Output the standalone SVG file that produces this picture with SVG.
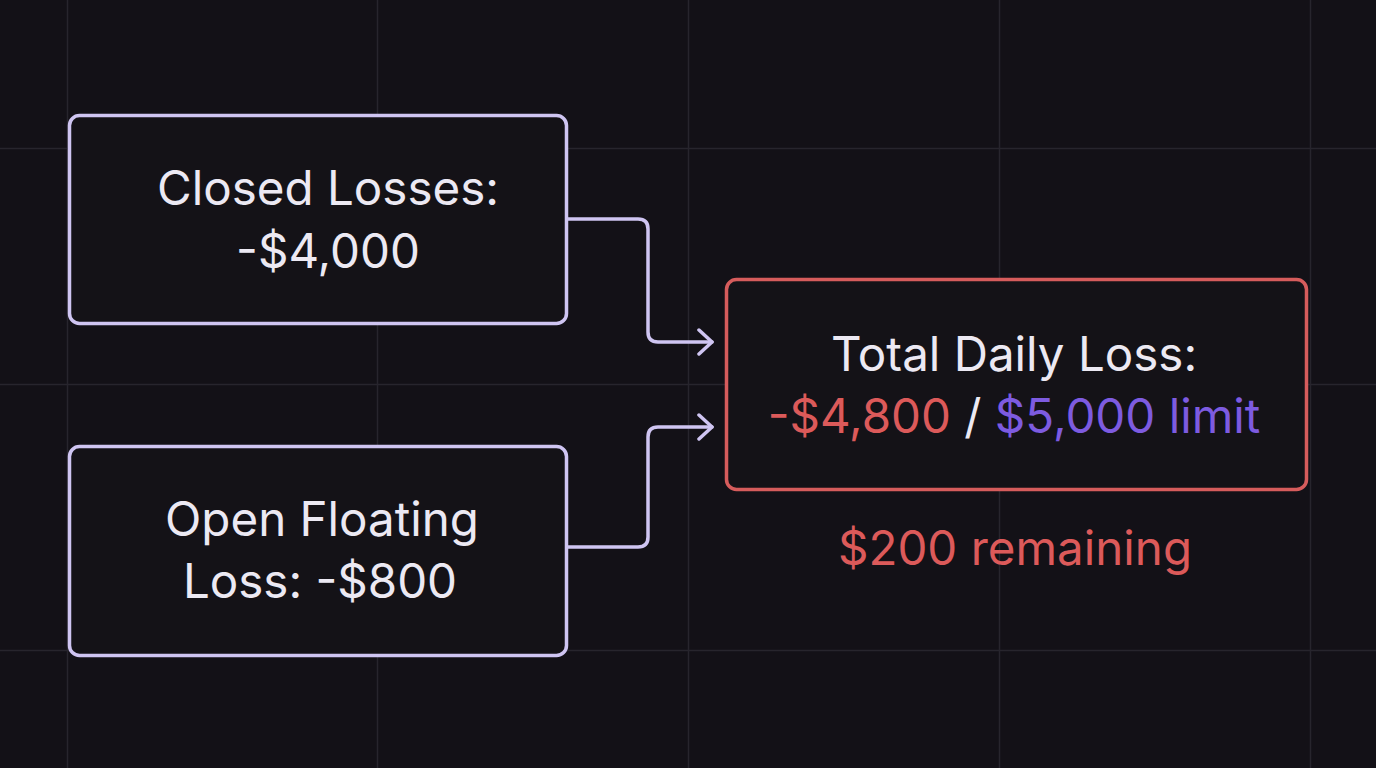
<svg xmlns="http://www.w3.org/2000/svg" width="1376" height="768" viewBox="0 0 1376 768">
<defs>
<style>
.grid{stroke:#27252d;stroke-width:1.5}
.box{fill:#141217;stroke-width:3.5}
.lav{stroke:#cfc5f2}
.redb{stroke:#d65c5c}
.t{font-family:Inter,"Noto Sans",sans-serif;font-size:47.5px;text-anchor:middle;fill:#ece9f3}
.red{fill:#dc5a5a}
.pur{fill:#7d5be0}
.conn{fill:none;stroke:#cfc5f2;stroke-width:3.5;stroke-linecap:round;stroke-linejoin:round}
</style>
<marker id="arr" markerWidth="18" markerHeight="28" refX="15" refY="14" orient="auto" markerUnits="userSpaceOnUse">
<path d="M2,2 L15,14 L2,26" fill="none" stroke="#cfc5f2" stroke-width="3.5" stroke-linecap="round" stroke-linejoin="round"/>
</marker>
</defs>
<rect width="1376" height="768" fill="#131117"/>
<g id="grid">
<line class="grid" x1="67.5" y1="0" x2="67.5" y2="768"/>
<line class="grid" x1="377.5" y1="0" x2="377.5" y2="768"/>
<line class="grid" x1="688.5" y1="0" x2="688.5" y2="768"/>
<line class="grid" x1="999.5" y1="0" x2="999.5" y2="768"/>
<line class="grid" x1="1310.5" y1="0" x2="1310.5" y2="768"/>
<line class="grid" x1="0" y1="148.5" x2="1376" y2="148.5"/>
<line class="grid" x1="0" y1="384.5" x2="1376" y2="384.5"/>
<line class="grid" x1="0" y1="650.5" x2="1376" y2="650.5"/>
</g>
<g id="connectors">
<path class="conn" d="M567,219 H638 Q648,219 648,229 V332 Q648,342 658,342 H712" marker-end="url(#arr)"/>
<path class="conn" d="M567,547 H638 Q648,547 648,537 V437 Q648,427 658,427 H712" marker-end="url(#arr)"/>
</g>
<g id="closed">
<rect class="box lav" x="69.5" y="115.5" width="497" height="208" rx="10"/>
<text class="t" x="328" y="205">Closed Losses:</text>
<text class="t" x="328" y="268">-$4,000</text>
</g>
<g id="open">
<rect class="box lav" x="69.5" y="446.5" width="497" height="209" rx="10"/>
<text class="t" x="322" y="536">Open Floating</text>
<text class="t" x="320" y="598">Loss: -$800</text>
</g>
<g id="total">
<rect class="box redb" x="726.5" y="279.5" width="580" height="210" rx="10"/>
<text class="t" x="1014" y="371">Total Daily Loss:</text>
<text class="t" x="1014" y="433"><tspan class="red">-$4,800</tspan> / <tspan class="pur">$5,000 limit</tspan></text>
</g>
<g id="remaining">
<text class="t red" x="1015" y="565">$200 remaining</text>
</g>
</svg>
